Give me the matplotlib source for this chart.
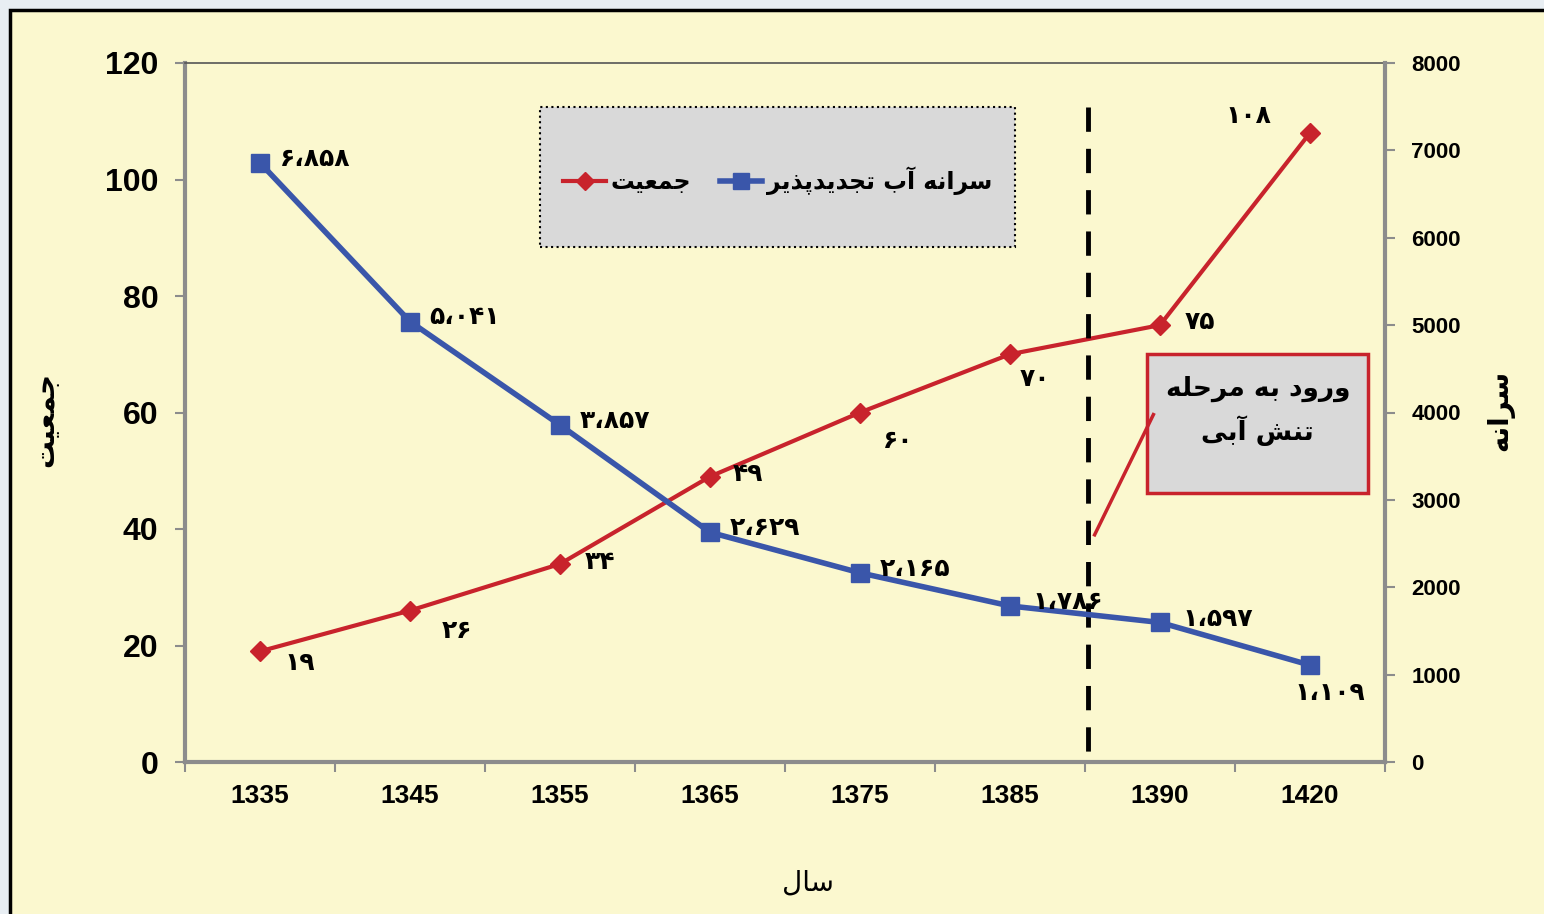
import matplotlib
matplotlib.use("Agg")
import matplotlib.pyplot as plt
from matplotlib.patches import Rectangle
from matplotlib.lines import Line2D

# --- data ---
years = ["1335", "1345", "1355", "1365", "1375", "1385", "1390", "1420"]
population = [19, 26, 34, 49, 60, 70, 75, 108]
per_capita = [6858, 5041, 3857, 2629, 2165, 1786, 1597, 1109]
pop_labels = ["۱۹", "۲۶", "۳۴", "۴۹", "۶۰", "۷۰", "۷۵", "۱۰۸"]
cap_labels = ["۶،۸۵۸", "۵،۰۴۱", "۳،۸۵۷", "۲،۶۲۹", "۲،۱۶۵", "۱،۷۸۶", "۱،۵۹۷", "۱،۱۰۹"]

# label offsets in pixels relative to each point
pop_off = [(40, -12), (47, -20), (40, 2), (38, 3), (38, -28), (25, -25), (40, 3), (-62, 17)]
cap_off = [(55, 4), (55, 5), (55, 4), (55, 4), (55, 4), (58, 4), (58, 3), (20, -28)]

RED = "#C8232C"
BLUE = "#3A56AA"
BG = "#FBF8CF"
BOXGRAY = "#D9D9D9"

# minimal Persian shaping (matplotlib does not shape Arabic script)
FORMS = {
    "ا": ("\uFE8D", "\uFE8E", None, None),
    "آ": ("\uFE81", "\uFE82", None, None),
    "ب": ("\uFE8F", "\uFE90", "\uFE91", "\uFE92"),
    "پ": ("\uFB56", "\uFB57", "\uFB58", "\uFB59"),
    "ت": ("\uFE95", "\uFE96", "\uFE97", "\uFE98"),
    "ج": ("\uFE9D", "\uFE9E", "\uFE9F", "\uFEA0"),
    "ح": ("\uFEA1", "\uFEA2", "\uFEA3", "\uFEA4"),
    "د": ("\uFEA9", "\uFEAA", None, None),
    "ذ": ("\uFEAB", "\uFEAC", None, None),
    "ر": ("\uFEAD", "\uFEAE", None, None),
    "س": ("\uFEB1", "\uFEB2", "\uFEB3", "\uFEB4"),
    "ش": ("\uFEB5", "\uFEB6", "\uFEB7", "\uFEB8"),
    "ع": ("\uFEC9", "\uFECA", "\uFECB", "\uFECC"),
    "ل": ("\uFEDD", "\uFEDE", "\uFEDF", "\uFEE0"),
    "م": ("\uFEE1", "\uFEE2", "\uFEE3", "\uFEE4"),
    "ن": ("\uFEE5", "\uFEE6", "\uFEE7", "\uFEE8"),
    "ه": ("\uFEE9", "\uFEEA", "\uFEEB", "\uFEEC"),
    "و": ("\uFEED", "\uFEEE", None, None),
    "ی": ("\uFBFC", "\uFBFD", "\uFBFE", "\uFBFF"),
}


def fa(text):
    out = []
    for i, c in enumerate(text):
        if c not in FORMS:
            out.append(c)
            continue
        prev = text[i - 1] if i > 0 else ""
        nxt = text[i + 1] if i + 1 < len(text) else ""
        p = prev in FORMS and FORMS[prev][2] is not None
        n = FORMS[c][2] is not None and nxt in FORMS
        iso, fin, ini, med = FORMS[c]
        if p and n:
            out.append(med)
        elif p:
            out.append(fin)
        elif n:
            out.append(ini)
        else:
            out.append(iso)
    return "".join(reversed(out))


def fa_lines(text):
    return "\n".join(fa(t) for t in text.split("\n"))


plt.rcParams["font.family"] = ["Liberation Sans", "DejaVu Sans"]

fig = plt.figure(figsize=(15.44, 9.14), dpi=100, facecolor="#E8EEF3")
fig.patches.append(Rectangle((10 / 1544, -0.01), 1.02, 1 - 10 / 914 + 0.01,
                             transform=fig.transFigure, facecolor=BG,
                             edgecolor="black", linewidth=2.5, zorder=-5))

ax = fig.add_axes([185 / 1544, 1 - 762 / 914, 1200 / 1544, 699 / 914])
ax.set_facecolor(BG)
ax2 = ax.twinx()

x = list(range(len(years)))
ax.plot(x, population, color=RED, lw=3, marker="D", ms=10, zorder=3)
ax2.plot(x, per_capita, color=BLUE, lw=4, marker="s", ms=13, zorder=3)

ax.set_xlim(-0.5, len(years) - 0.5)
ax.set_ylim(0, 120)
ax2.set_ylim(0, 8000)
ax.set_yticks(range(0, 121, 20))
ax2.set_yticks(range(0, 8001, 1000))
ax.set_xticks(x)
ax.set_xticklabels(years)
ax.set_xticks([i - 0.5 for i in range(len(years) + 1)], minor=True)

for a in (ax, ax2):
    for s in a.spines.values():
        s.set_visible(False)
ax.spines["left"].set_visible(True)
ax.spines["bottom"].set_visible(True)
ax2.spines["right"].set_visible(True)
ax.spines["top"].set_visible(True)
for s in ("left", "bottom"):
    ax.spines[s].set_color("#8C8C8C")
    ax.spines[s].set_linewidth(3)
ax2.spines["right"].set_color("#8C8C8C")
ax2.spines["right"].set_linewidth(3)
ax.spines["top"].set_color("#555555")
ax.spines["top"].set_linewidth(1.2)

ax.tick_params(axis="x", which="major", length=0, pad=16, labelsize=19)
ax.tick_params(axis="x", which="minor", length=7, width=1.5, color="#8C8C8C", direction="out")
ax.tick_params(axis="y", length=7, width=1.5, color="#8C8C8C", labelsize=23, pad=12)
ax2.tick_params(axis="y", length=7, width=1.5, color="#8C8C8C", labelsize=16, pad=12)
for lab in ax.get_xticklabels() + ax.get_yticklabels() + ax2.get_yticklabels():
    lab.set_fontweight("bold")

# data labels
for xi, yi, t, off in zip(x, population, pop_labels, pop_off):
    ax.annotate(t, (xi, yi), xytext=off, textcoords="offset pixels",
                ha="center", va="center", fontsize=18, fontweight="bold",
                family="DejaVu Sans", zorder=5)
for xi, yi, t, off in zip(x, per_capita, cap_labels, cap_off):
    ax2.annotate(t, (xi, yi), xytext=off, textcoords="offset pixels",
                 ha="center", va="center", fontsize=18, fontweight="bold",
                 family="DejaVu Sans", zorder=5)

# stress threshold line (drawn top-down so the dash pattern starts at the top)
ax.plot([5.52, 5.52], [0.937, 0.0], transform=ax.get_xaxis_transform(),
        color="black", lw=3.5, ls=(0, (5, 3.5)), zorder=4)

# callout box
ax.add_patch(Rectangle((0.802, 0.385), 0.184, 0.199, transform=ax.transAxes,
                       facecolor=BOXGRAY, edgecolor=RED, lw=2.5, zorder=6))
ax.text(0.894, 0.502, fa_lines("ورود به مرحله\nتنش آبی"), transform=ax.transAxes,
        ha="center", va="center", fontsize=19, fontweight="bold",
        family="DejaVu Sans", linespacing=1.55, zorder=7)
ax.plot([0.758, 0.807], [0.325, 0.497], transform=ax.transAxes,
        color=RED, lw=2.5, zorder=6)

# legend box
ax.add_patch(Rectangle((0.296, 0.737), 0.396, 0.200, transform=ax.transAxes,
                       facecolor=BOXGRAY, edgecolor="black", lw=1.5, ls=":", zorder=6))
handles = [Line2D([], [], color=RED, lw=3, marker="D", ms=9),
           Line2D([], [], color=BLUE, lw=4, marker="s", ms=11)]
leg = ax.legend(handles, [fa("جمعیت"), fa("سرانه آب تجدیدپذیر")], ncol=2,
                loc="center", bbox_to_anchor=(0.494, 0.831), frameon=False,
                prop={"family": "DejaVu Sans", "weight": "bold", "size": 17},
                handlelength=1.8, handletextpad=0.2, columnspacing=1.2)
leg.set_zorder(7)

# axis titles
fig.text(45 / 1544, 1 - 420 / 914, fa("جمعیت"), rotation=90, ha="center", va="center",
         fontsize=20, fontweight="bold", family="DejaVu Sans")
fig.text(1500 / 1544, 1 - 410 / 914, fa("سرانه"), rotation=90, ha="center", va="center",
         fontsize=20, fontweight="bold", family="DejaVu Sans")
fig.text(808 / 1544, 1 - 883 / 914, fa("سال"), ha="center", va="center",
         fontsize=20, family="DejaVu Sans")

fig.savefig("out.png", dpi=100, facecolor=fig.get_facecolor())
